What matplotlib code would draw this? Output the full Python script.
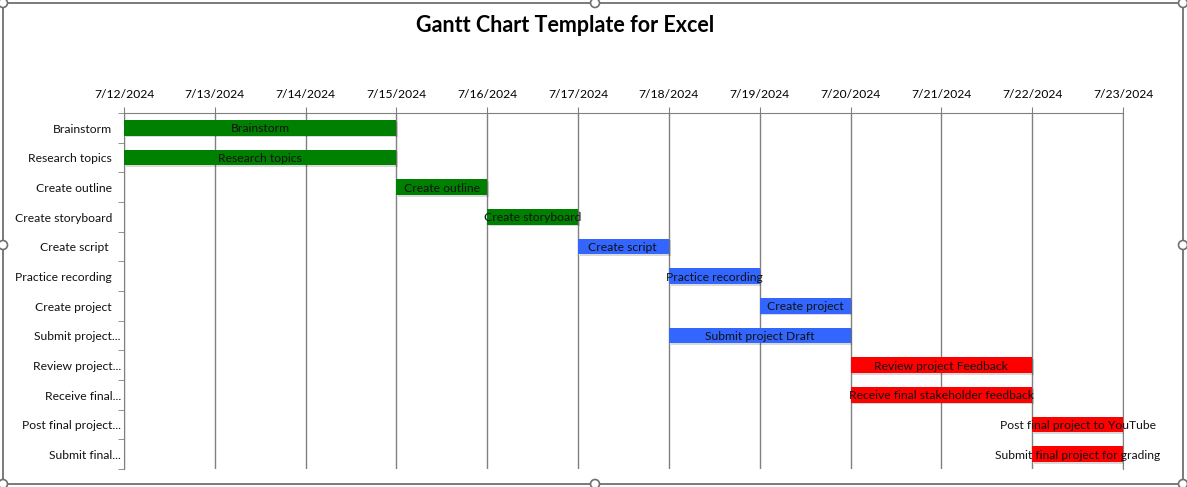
import datetime as dt

import matplotlib
matplotlib.use('Agg')
import matplotlib.pyplot as plt
import matplotlib.dates as mdates
import matplotlib.patheffects as pe
import matplotlib.transforms as mtransforms
from matplotlib.patches import Rectangle, Circle

# Gantt tasks (top to bottom)
tasks = ["Brainstorm", "Research topics", "Create outline", "Create storyboard",
         "Create script ", "Practice recording", "Create project",
         "Submit project Draft", "Review project Feedback",
         "Receive final stakeholder feedback", "Post final project to YouTube",
         "Submit final project for grading"]
axis_labels = ["Brainstorm", "Research topics", "Create outline", "Create storyboard",
               "Create script ", "Practice recording", "Create project",
               "Submit project...", "Review project...", "Receive final...",
               "Post final project...", "Submit final..."]
starts = ["2024-07-12", "2024-07-12", "2024-07-15", "2024-07-16", "2024-07-17",
          "2024-07-18", "2024-07-19", "2024-07-18", "2024-07-20", "2024-07-20",
          "2024-07-22", "2024-07-22"]
durations = [3, 3, 1, 1, 1, 1, 1, 2, 2, 2, 1, 1]
colors = ["#008000"] * 4 + ["#3366FF"] * 4 + ["#FF0000"] * 4

plt.rcParams['font.family'] = ['Lato', 'DejaVu Sans']

fig = plt.figure(figsize=(11.87, 4.87), dpi=100)
ax = fig.add_axes([124 / 1187, 1 - 469 / 487, 999 / 1187, 356 / 487])

start_nums = [mdates.date2num(dt.datetime.strptime(s, "%Y-%m-%d")) for s in starts]
ys = list(range(len(tasks)))

shadow = [pe.SimplePatchShadow(offset=(1.2, -1.2), shadow_rgbFace='#000000', alpha=0.15), pe.Normal()]
bars = ax.barh(ys, durations, left=start_nums, height=0.52, color=colors, zorder=3)
for b in bars:
    b.set_path_effects(shadow)

for y, s, d, name in zip(ys, start_nums, durations, tasks):
    ax.text(s + d / 2, y, name, ha='center', va='center_baseline', fontsize=8.7,
            color='#111111', zorder=4)

x0 = mdates.date2num(dt.datetime(2024, 7, 12))
x1 = mdates.date2num(dt.datetime(2024, 7, 23))
ax.set_xlim(x0, x1)
ax.set_ylim(len(tasks) - 0.5, -0.5)

ax.xaxis.set_major_locator(mdates.DayLocator())
ax.xaxis.set_major_formatter(plt.FuncFormatter(
    lambda v, p: (lambda d: f"{d.month}/{d.day}/{d.year}")(mdates.num2date(v))))
ax.xaxis.tick_top()
ax.tick_params(axis='x', length=4, color='#808080', labelsize=8.7, pad=5)
ax.grid(axis='x', color='#808080', linewidth=1, zorder=0)

# category labels: Excel puts the truncated ones closer to the axis
ax.set_yticks(ys)
ax.set_yticklabels([])
ax.set_yticks([y + 0.5 for y in [-1] + ys], minor=True)
ax.tick_params(axis='y', which='major', length=0)
ax.tick_params(axis='y', which='minor', length=4, color='#808080')
lab_trans = mtransforms.blended_transform_factory(ax.transAxes, ax.transData)
for y, lab in zip(ys, axis_labels):
    off = -2.2 if lab.endswith("...") else -8.6
    t = lab_trans + mtransforms.ScaledTranslation(off / 72, -1 / 72, fig.dpi_scale_trans)
    ax.text(0, y, lab, transform=t, ha='right', va='center', fontsize=8.7,
            color='#111111', clip_on=False)

ax.spines['bottom'].set_visible(False)
for side in ['top', 'left', 'right']:
    ax.spines[side].set_color('#808080')

fig.text(565 / 1187, 1 - 25 / 487, "Gantt Chart Template for Excel",
         ha='center', va='center', fontsize=15.5, fontweight='bold')

# chart frame with selection handles
W, H = 1187, 487
fig.patches.append(Rectangle((3 / W, 1 - 484 / H), 1180 / W, 481 / H,
                             transform=fig.transFigure, fill=False,
                             edgecolor='#707070', linewidth=1.3))
for hx, hy in [(3, 3), (595, 3), (1183, 3), (3, 245), (1183, 245),
               (3, 484), (595, 484), (1183, 484)]:
    fig.patches.append(Circle((hx, H - hy), 4.5, transform=None,
                              facecolor='white', edgecolor='#707070', linewidth=1.2))

fig.savefig("out.png", dpi=100)
plt.close('all')
